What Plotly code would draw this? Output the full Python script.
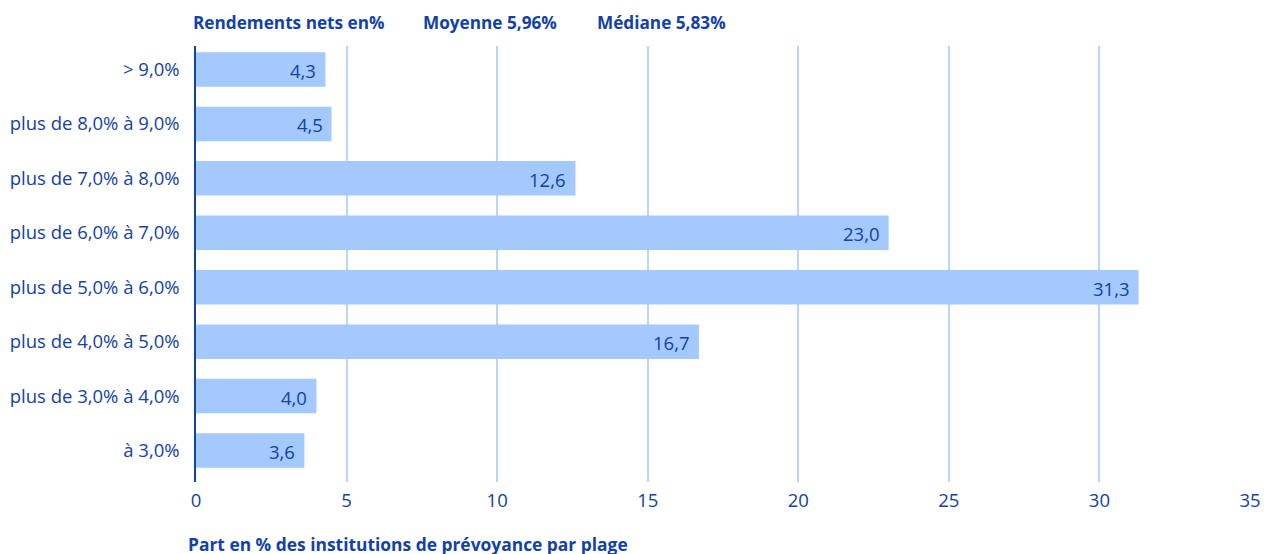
import plotly.graph_objects as go

categories = ["> 9,0%", "plus de 8,0% à 9,0%", "plus de 7,0% à 8,0%", "plus de 6,0% à 7,0%",
              "plus de 5,0% à 6,0%", "plus de 4,0% à 5,0%", "plus de 3,0% à 4,0%", "à 3,0%"]
values = [4.3, 4.5, 12.6, 23.0, 31.3, 16.7, 4.0, 3.6]
value_labels = ["4,3", "4,5", "12,6", "23,0", "31,3", "16,7", "4,0", "3,6"]
x_ticks = [0, 5, 10, 15, 20, 25, 30, 35]

TEXT = "#1241a8"
FONT = "Open Sans"
REG = 18.5
HEAD = 17.2

L, T, B = 188, 38, 554 - 474
PW = 1054

fig = go.Figure()
fig.add_trace(go.Bar(
    y=categories, x=values, orientation="h",
    marker=dict(color="#a3c9fd", line=dict(width=0)),
    width=0.634, hoverinfo="skip",
))
for c, v, t in zip(categories, values, value_labels):
    fig.add_annotation(x=v, y=c, text=t, showarrow=False, xanchor="right",
                       xshift=-7, yshift=-1, font=dict(family=FONT, size=REG, color=TEXT))

fig.update_layout(
    width=1278, height=554,
    margin=dict(l=L, r=1278 - L - PW, t=T, b=B),
    plot_bgcolor="white", paper_bgcolor="white",
    showlegend=False,
    font=dict(family=FONT, size=REG, color=TEXT),
    xaxis=dict(range=[0, 35], tickvals=x_ticks, ticktext=[str(t) for t in x_ticks],
               showgrid=True, gridcolor="#b9d5f7", gridwidth=1.5, zeroline=False,
               showline=False, ticks="", ticklabelstandoff=5, automargin=False,
               tickfont=dict(family=FONT, size=REG, color=TEXT)),
    yaxis=dict(categoryorder="array", categoryarray=categories[::-1],
               range=[-0.579, 7.432], showgrid=False, zeroline=False,
               showline=True, linecolor="#1241a8", linewidth=1.5, ticks="",
               ticklabelstandoff=11, automargin=False,
               tickfont=dict(family=FONT, size=REG, color=TEXT)),
)

header = [("<b>Rendements nets en%</b>", -5), ("<b>Moyenne 5,96%</b>", 225),
          ("<b>Médiane 5,83%</b>", 399)]
for txt, off in header:
    fig.add_annotation(x=off / PW, xref="paper", y=1, yref="paper", yshift=24,
                       text=txt, showarrow=False, xanchor="left", yanchor="middle",
                       font=dict(family=FONT, size=HEAD, color=TEXT))
fig.add_annotation(x=-10 / PW, xref="paper", y=0, yref="paper", yshift=-62,
                   text="<b>Part en % des institutions de prévoyance par plage</b>",
                   showarrow=False, xanchor="left", yanchor="middle",
                   font=dict(family=FONT, size=17.4, color=TEXT))

fig.write_html("out.html")
